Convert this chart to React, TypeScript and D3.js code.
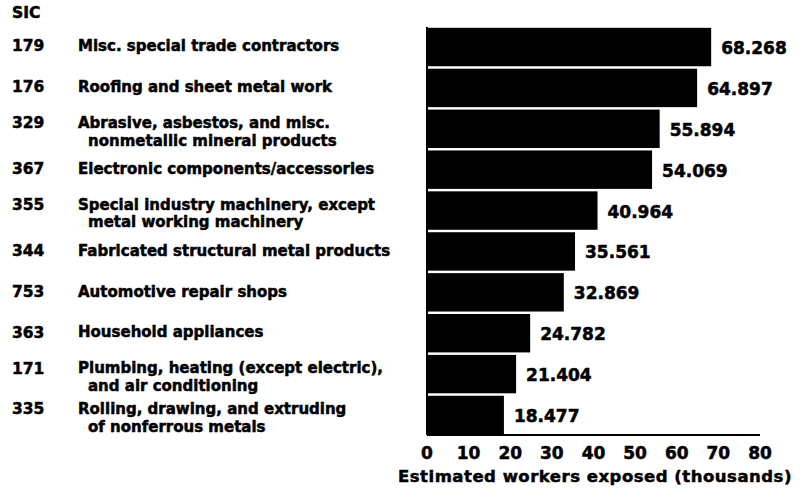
import React from 'react'
import * as d3 from 'd3'

const sicCodes = ['179', '176', '329', '367', '355', '344', '753', '363', '171', '335']

const industries = [
	['Misc. special trade contractors'],
	['Roofing and sheet metal work'],
	['Abrasive, asbestos, and misc.', 'nonmetallic mineral products'],
	['Electronic components/accessories'],
	['Special industry machinery, except', 'metal working machinery'],
	['Fabricated structural metal products'],
	['Automotive repair shops'],
	['Household appliances'],
	['Plumbing, heating (except electric),', 'and air conditioning'],
	['Rolling, drawing, and extruding', 'of nonferrous metals']
]

// thousands of workers
const workers = [68.268, 64.897, 55.894, 54.069, 40.964, 35.561, 32.869, 24.782, 21.404, 18.477]

const xTicks = [0, 10, 20, 30, 40, 50, 60, 70, 80]

const width = 801
const height = 492
const margin = { top: 27, left: 427, right: 41, bottom: 57 }
const font = '"DejaVu Sans", sans-serif'

export default function App () {
	const x = d3.scaleLinear()
		.domain([0, 80])
		.range([margin.left, width - margin.right])

	const y = d3.scaleBand()
		.domain(sicCodes)
		.range([margin.top, height - margin.bottom])
		.paddingInner(0.06)
		.paddingOuter(0.02)

	const fmt = d3.format('.3f')
	const bottom = height - margin.bottom

	return (
		<svg width={width} height={height}
			style={{ position: 'absolute', left: 0, top: 0, background: '#fff' }}
			fontFamily={font} fontWeight="bold" stroke="#000" strokeWidth={0.5}>
			<text x={12} y={13} dy="0.35em" fontSize={15.5}>SIC</text>

			{sicCodes.map((code, i) => {
				const cy = y(code) + y.bandwidth() / 2
				const lines = industries[i]
				const y0 = lines.length > 1 ? cy - 6 : cy - 1
				return (
					<g key={code}>
						<text x={12} y={y0} dy="0.35em" fontSize={15.5}>{code}</text>
						{lines.map((line, j) => (
							<text key={j} x={j === 0 ? 78 : 88} y={y0 + j * 17.5} dy="0.35em" fontSize={15}>{line}</text>
						))}
					</g>
				)
			})}

			{workers.map((v, i) => (
				<rect key={sicCodes[i]}
					x={x(0) + 1}
					y={y(sicCodes[i])}
					width={x(v) - x(0) - 1}
					height={y.bandwidth()}
					fill="#000" stroke="none" />
			))}

			{workers.map((v, i) => (
				<text key={'v' + i}
					x={x(v) + 10}
					y={y(sicCodes[i]) + y.bandwidth() / 2 + 1}
					dy="0.35em" fontSize={17}>{fmt(v)}</text>
			))}

			<line x1={x(0)} x2={x(0)} y1={margin.top} y2={bottom} stroke="#000" strokeWidth={2} />
			<line x1={x(0)} x2={x(80)} y1={bottom} y2={bottom} stroke="#000" strokeWidth={2} />

			{xTicks.map(t => (
				<text key={t} x={x(t)} y={453} dy="0.35em" textAnchor="middle" fontSize={17}>{t}</text>
			))}

			<text x={595} y={476} dy="0.35em" textAnchor="middle" fontSize={16.5} letterSpacing={0.5}>
				Estimated workers exposed (thousands)
			</text>
		</svg>
	)
}
